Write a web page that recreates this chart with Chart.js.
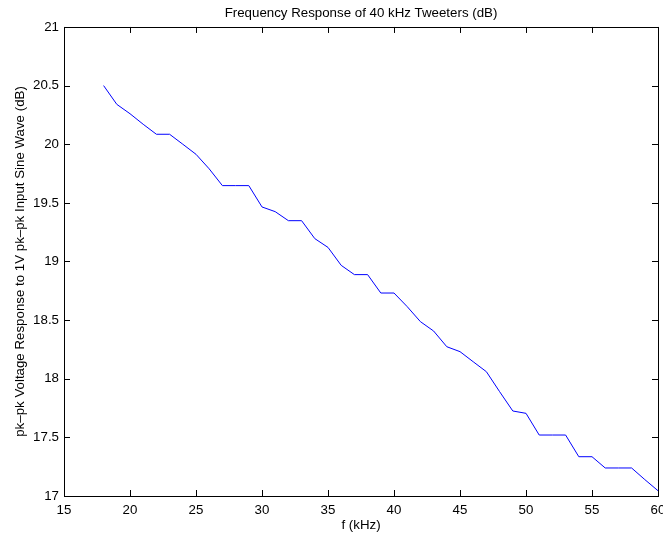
<!DOCTYPE html>
<html>
<head>
<meta charset="utf-8">
<script src="https://cdn.jsdelivr.net/npm/chart.js@4"></script>
<style>
  html, body { margin: 0; padding: 0; background: #fff; }
  canvas { display: block; }
</style>
</head>
<body>
<canvas id="chart" width="663" height="533"></canvas>
<script>
const freqs = [18, 19, 20, 21, 22, 23, 24, 25, 26, 27, 28, 29, 30, 31, 32, 33, 34, 35, 36, 37, 38, 39,
    40, 41, 42, 43, 44, 45, 46, 47, 48, 49, 50, 51, 52, 53, 54, 55, 56, 57, 58, 59, 60]
const response = [20.50, 20.34, 20.26, 20.17, 20.085, 20.085, 20.00, 19.914, 19.79, 19.647, 19.647, 19.647,
    19.465, 19.425, 19.348, 19.348, 19.195, 19.12, 18.967, 18.888, 18.888, 18.731, 18.731, 18.615, 18.487,
    18.407, 18.273, 18.231, 18.145, 18.06, 17.89, 17.725, 17.705, 17.52, 17.52, 17.52, 17.335, 17.335,
    17.239, 17.239, 17.239, 17.14, 17.045]
const xTicks = [15, 20, 25, 30, 35, 40, 45, 50, 55, 60]
const yTicks = [17, 17.5, 18, 18.5, 19, 19.5, 20, 20.5, 21]

const font = { family: '"Liberation Sans", Arial, Helvetica, sans-serif', size: 13.3 }
Chart.defaults.font = font
Chart.defaults.color = '#000'

// MATLAB style box with inward ticks on all four sides
const matlabBox = {
    id: 'matlabBox',
    afterDraw(chart) {
        const { ctx, chartArea: a, scales: { x, y } } = chart
        const len = 6
        ctx.save()
        ctx.strokeStyle = '#000'
        ctx.lineWidth = 1
        ctx.beginPath()
        x.ticks.forEach(t => {
            const px = Math.round(x.getPixelForValue(t.value)) + 0.5
            ctx.moveTo(px, a.bottom)
            ctx.lineTo(px, a.bottom - len)
            ctx.moveTo(px, a.top)
            ctx.lineTo(px, a.top + len)
        })
        y.ticks.forEach(t => {
            const py = Math.round(y.getPixelForValue(t.value)) + 0.5
            ctx.moveTo(a.left, py)
            ctx.lineTo(a.left + len, py)
            ctx.moveTo(a.right, py)
            ctx.lineTo(a.right - len, py)
        })
        ctx.stroke()
        ctx.strokeRect(Math.round(a.left) + 0.5, Math.round(a.top) + 0.5,
            Math.round(a.right - a.left), Math.round(a.bottom - a.top))
        ctx.restore()
    }
}

new Chart(document.getElementById('chart'), {
    type: 'scatter',
    data: {
        datasets: [{
            data: freqs.map((f, i) => ({ x: f, y: response[i] })),
            showLine: true,
            borderColor: 'rgb(0, 0, 255)',
            borderWidth: 1,
            pointRadius: 0,
            tension: 0
        }]
    },
    options: {
        responsive: false,
        animation: false,
        layout: { padding: { left: 0, right: 5, top: 0, bottom: 0 } },
        plugins: {
            legend: { display: false },
            tooltip: { enabled: false },
            title: {
                display: true,
                text: 'Frequency Response of 40 kHz Tweeters (dB)',
                fullSize: false,
                font: { ...font, weight: 'normal' },
                padding: { top: 5, bottom: 6 }
            }
        },
        scales: {
            x: {
                type: 'linear',
                min: 15,
                max: 60,
                afterBuildTicks: s => { s.ticks = xTicks.map(v => ({ value: v })) },
                afterFit: s => { s.height = 37; s.paddingLeft = 0; s.paddingRight = 0 },
                grid: { display: false, drawTicks: false },
                border: { display: false },
                ticks: { padding: 6, maxRotation: 0, autoSkip: false, callback: v => String(v) },
                title: { display: true, text: 'f (kHz)', padding: { top: 0, bottom: 0 } }
            },
            y: {
                type: 'linear',
                min: 17,
                max: 21,
                afterBuildTicks: s => { s.ticks = yTicks.map(v => ({ value: v })) },
                afterFit: s => { s.width = 64; s.paddingTop = 0; s.paddingBottom = 0 },
                grid: { display: false, drawTicks: false },
                border: { display: false },
                ticks: { padding: 5, autoSkip: false, callback: v => String(v) },
                title: { display: true, text: 'pk\u2013pk Voltage Response to 1V pk\u2013pk Input Sine Wave (dB)', padding: { top: 12.5, bottom: 0 } }
            }
        }
    },
    plugins: [matlabBox]
})
</script>
</body>
</html>
